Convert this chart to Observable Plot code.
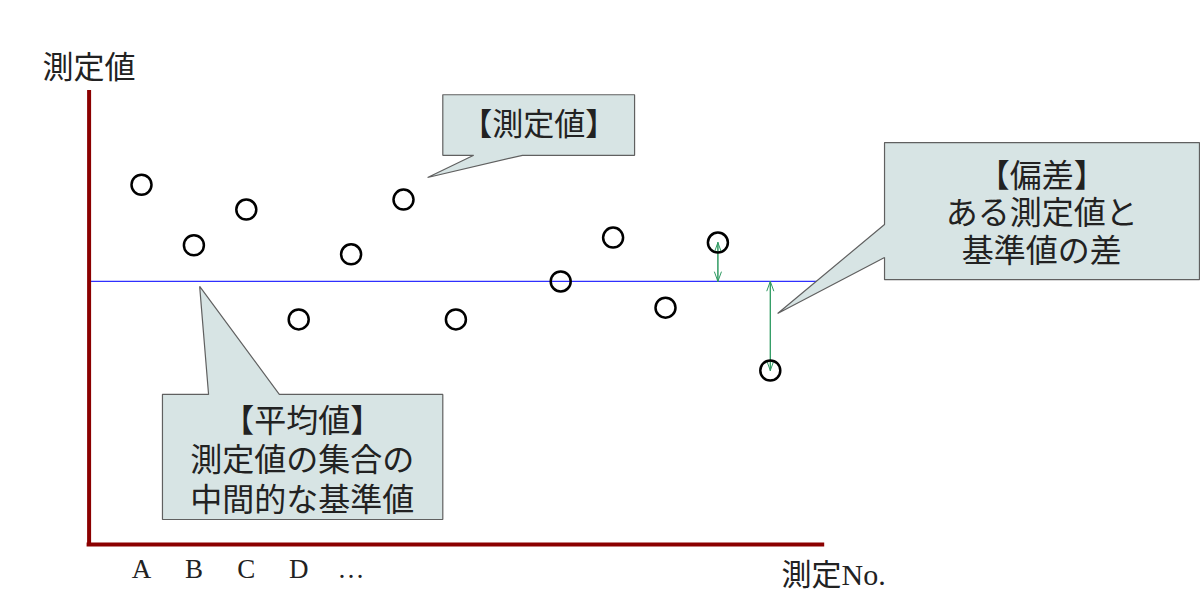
<!DOCTYPE html>
<html><head><meta charset="utf-8">
<script src="https://cdn.jsdelivr.net/npm/d3@7"></script>
<script src="https://cdn.jsdelivr.net/npm/@observablehq/plot@0.6"></script>
<style>body{margin:0;background:#fff} svg{display:block}</style>
</head><body><div id="chart"></div>
<script>
// measurement numbers (position along x) and measured values
const measureNo = [1, 2, 3, 4, 5, 6, 7, 9, 10, 11, 12, 13];
const values = [79.6, 66.2, 74.1, 49.8, 64.2, 76.3, 49.8, 58.2, 67.9, 52.4, 66.8, 38.5];
const meanValue = 58.2;
const tickPositions = [1, 2, 3, 4, 5];
const tickLabels = ["A", "B", "C", "D", "…"];
const deviationNos = [12, 13];

// callout shapes (data units)
const callout1 = [[6.75,99.5],[10.41,99.5],[10.41,86.1],[8.27,86.1],[6.46,81.2],[7.34,86.1],[6.75,86.1],[6.75,99.5]];
const callout2 = [[15.18,88.9],[21.19,88.9],[21.19,58.6],[15.18,58.6],[15.18,63.5],[13.14,51.1],[15.18,70.8],[15.18,88.9]];
const callout3 = [[1.40,33.2],[2.28,33.2],[2.11,57.1],[3.63,33.2],[6.75,33.2],[6.75,5.53],[1.40,5.53],[1.40,33.2]];

const points = measureNo.map((n, i) => ({no: n, value: values[i]}));
const devs = points.filter(d => deviationNos.includes(d.no));
const font = "'Liberation Serif','Noto Sans CJK JP',serif";
const fill = "#d7e4e4", edge = "#606060", green = "#2f9a62";

const poly = (pts) => Plot.line(pts.map(([x, y]) => ({x, y})), {x: "x", y: "y", fill, stroke: edge, strokeWidth: 1.2, strokeLinejoin: "miter", curve: "linear"});

const chart = Plot.plot({
  width: 1200, height: 614,
  marginLeft: 88.6, marginRight: 377.8, marginTop: 92, marginBottom: 70,
  x: {domain: [0, 14], axis: null},
  y: {domain: [0, 100], axis: null},
  style: {fontFamily: font, background: "white", overflow: "visible"},
  marks: [
    Plot.ruleY([meanValue], {x1: 0, x2: 14, stroke: "#2f2fff", strokeWidth: 1.3}),
    Plot.arrow(devs, {x1: "no", x2: "no", y1: () => meanValue, y2: "value", stroke: green, strokeWidth: 1, headLength: 15, headAngle: 40}),
    Plot.arrow(devs, {x1: "no", x2: "no", y1: "value", y2: () => meanValue, stroke: green, strokeWidth: 1, headLength: 15, headAngle: 40}),
    Plot.dot(points, {x: "no", y: "value", r: 10, stroke: "black", strokeWidth: 2.5, fill: "none"}),
    Plot.ruleX([0], {y1: 0, y2: 100, stroke: "#8b0000", strokeWidth: 4, strokeLinecap: "square"}),
    Plot.ruleY([0], {x1: 0, x2: 14, stroke: "#8b0000", strokeWidth: 4, strokeLinecap: "square"}),
    Plot.axisX(tickPositions, {tickSize: 0, tickPadding: 14, fontSize: 27, fill: "#222", tickFormat: d => tickLabels[tickPositions.indexOf(d)], label: null}),
    Plot.text(["測定No."], {x: () => 14, frameAnchor: "bottom", lineAnchor: "middle", dy: 31, dx: 11, fontSize: 30, fill: "#222"}),
    Plot.text(["測定値"], {x: () => 0, frameAnchor: "top", lineAnchor: "middle", dy: -24, fontSize: 31, fill: "#222"}),
    poly(callout1), poly(callout2), poly(callout3),
    Plot.text(["【測定値】"], {x: () => 8.58, y: () => 92.7, fontSize: 31, fill: "#222"}),
    Plot.text(["【偏差】\nある測定値と\n基準値の差"], {x: () => 18.18, y: () => 73.5, fontSize: 32, lineHeight: 1.17, fill: "#222"}),
    Plot.text(["【平均値】\n測定値の集合の\n中間的な基準値"], {x: () => 4.07, y: () => 19.0, fontSize: 32, lineHeight: 1.23, fill: "#222"})
  ]
});
document.getElementById("chart").append(chart);
</script>
</body></html>
